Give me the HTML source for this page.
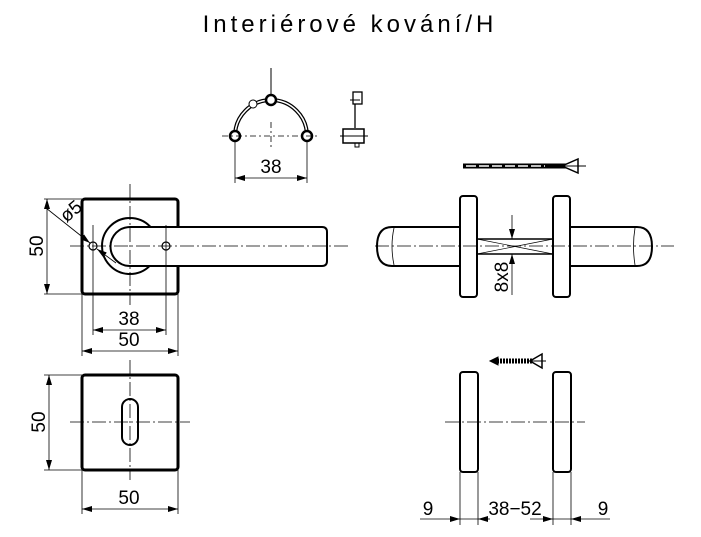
<!DOCTYPE html>
<html><head><meta charset="utf-8"><style>
html,body{margin:0;padding:0;background:#fff;}
svg{display:block;}
text{font-family:"Liberation Sans",sans-serif;fill:#000;}
</style></head><body>
<svg width="701" height="537" viewBox="0 0 701 537" xmlns="http://www.w3.org/2000/svg">
<defs>
<marker id="a" viewBox="0 0 10 6" refX="10" refY="3" markerWidth="10" markerHeight="6" orient="auto-start-reverse" markerUnits="userSpaceOnUse"><path d="M0,0 L10,3 L0,6z" fill="#000"/></marker>
</defs>
<text x="350" y="32" font-size="24" text-anchor="middle" letter-spacing="4" font-weight="normal">Interiérové kování/H</text>

<g fill="none" stroke="#000">
<!-- top fitting -->
<line x1="271" y1="68" x2="271" y2="98" stroke-width="1"/>
<path d="M235,136 A36,36 0 0 1 307,136" stroke-width="4"/>
<path d="M235,136 A36,36 0 0 1 307,136" stroke="#fff" stroke-width="1.5"/>
<circle cx="235" cy="136" r="5" stroke-width="2.5" fill="#fff"/>
<circle cx="307" cy="136" r="5" stroke-width="2.5" fill="#fff"/>
<circle cx="271" cy="100" r="5" stroke-width="2.5" fill="#fff"/>
<circle cx="253" cy="104" r="4" stroke-width="1" fill="#fff"/>
<g stroke-dasharray="6,3,2,3" stroke-width="0.8">
<line x1="222" y1="136" x2="320" y2="136"/>
<line x1="271" y1="122" x2="271" y2="150"/>
</g>
<line x1="235" y1="141" x2="235" y2="183" stroke-width="0.8"/>
<line x1="307" y1="141" x2="307" y2="183" stroke-width="0.8"/>
<line x1="235" y1="178" x2="307" y2="178" stroke-width="0.8" marker-start="url(#a)" marker-end="url(#a)"/>
<!-- side piece -->
<rect x="353" y="92" width="9" height="12" stroke-width="1.3"/>
<line x1="355" y1="104" x2="355" y2="128" stroke-width="1.3"/>
<line x1="350" y1="100" x2="360" y2="100" stroke-width="1"/>
<rect x="343" y="129" width="21" height="14" stroke-width="1.5"/>
<line x1="340" y1="136" x2="368" y2="136" stroke-width="1"/>
<rect x="355" y="143" width="4" height="4" stroke-width="1"/>

<!-- top-left view -->
<rect x="82" y="199" width="96" height="95" rx="3" stroke-width="3"/>
<circle cx="130" cy="246" r="28" stroke-width="2"/>
<path d="M327,232 Q327,227 322,227 L130,227 A19.5,19.5 0 0 0 130,266 L322,266 Q327,266 327,261 Z" stroke-width="2" fill="#fff"/>
<circle cx="93" cy="246" r="4" stroke-width="1.2"/>
<circle cx="166" cy="246" r="4" stroke-width="1.2"/>
<g stroke-dasharray="14,3,2,3" stroke-width="0.8">
<line x1="70" y1="246" x2="348" y2="246"/>
<line x1="130" y1="184" x2="130" y2="305"/>
</g>
<line x1="93" y1="225" x2="93" y2="335" stroke-width="0.8"/>
<line x1="166" y1="225" x2="166" y2="335" stroke-width="0.8"/>
<line x1="82" y1="294" x2="82" y2="356" stroke-width="0.8"/>
<line x1="178" y1="294" x2="178" y2="356" stroke-width="0.8"/>
<line x1="44" y1="199" x2="82" y2="199" stroke-width="0.8"/>
<line x1="44" y1="294" x2="82" y2="294" stroke-width="0.8"/>
<line x1="47" y1="199" x2="47" y2="294" stroke-width="0.8" marker-start="url(#a)" marker-end="url(#a)"/>
<line x1="93" y1="330" x2="166" y2="330" stroke-width="0.8" marker-start="url(#a)" marker-end="url(#a)"/>
<line x1="82" y1="351" x2="178" y2="351" stroke-width="0.8" marker-start="url(#a)" marker-end="url(#a)"/>
<line x1="46" y1="208" x2="90" y2="243" stroke-width="0.8" marker-end="url(#a)"/>
<line x1="116" y1="263" x2="97" y2="249" stroke-width="0.8" marker-end="url(#a)"/>

<!-- bottom-left view -->
<rect x="82" y="375" width="96" height="95" rx="3" stroke-width="3"/>
<rect x="122" y="399" width="16" height="46" rx="8" stroke-width="2"/>
<g stroke-dasharray="14,3,2,3" stroke-width="0.8">
<line x1="70" y1="422" x2="190" y2="422"/>
<line x1="130" y1="360" x2="130" y2="480"/>
</g>
<line x1="44" y1="375" x2="82" y2="375" stroke-width="0.8"/>
<line x1="44" y1="470" x2="82" y2="470" stroke-width="0.8"/>
<line x1="49" y1="375" x2="49" y2="470" stroke-width="0.8" marker-start="url(#a)" marker-end="url(#a)"/>
<line x1="82" y1="470" x2="82" y2="514" stroke-width="0.8"/>
<line x1="178" y1="470" x2="178" y2="514" stroke-width="0.8"/>
<line x1="82" y1="509" x2="178" y2="509" stroke-width="0.8" marker-start="url(#a)" marker-end="url(#a)"/>

<!-- right view -->
<line x1="463" y1="166" x2="575" y2="166" stroke-width="5"/>
<line x1="466" y1="166" x2="545" y2="166" stroke="#fff" stroke-width="1.5" stroke-dasharray="10,3"/>
<path d="M578,159 L578,173 L562,166 Z" stroke-width="1.5" fill="#fff"/>
<line x1="560" y1="166" x2="586" y2="166" stroke-width="1"/>
<path d="M392,227 L460,227 L460,266 L392,266 Q377,266 377,246.5 Q377,227 392,227Z" stroke-width="2" fill="#fff"/>
<path d="M394,228 Q390,246 394,265" stroke-width="0.8"/>
<path d="M637,227 L570,227 L570,266 L637,266 Q652,266 652,246.5 Q652,227 637,227Z" stroke-width="2" fill="#fff"/>
<path d="M635,228 Q632,246 635,265" stroke-width="0.8"/>
<rect x="460" y="196" width="17" height="101" rx="3" stroke-width="2" fill="#fff"/>
<rect x="553" y="196" width="17" height="101" rx="3" stroke-width="2" fill="#fff"/>
<line x1="477" y1="239" x2="553" y2="239" stroke-width="1.5"/>
<line x1="477" y1="254" x2="553" y2="254" stroke-width="1.5"/>
<path d="M477,239 L553,254 M477,254 L553,239" stroke-width="0.7"/>
<line x1="375" y1="246" x2="674" y2="246" stroke-width="0.8" stroke-dasharray="14,3,2,3"/>
<line x1="512" y1="215" x2="512" y2="239" stroke-width="0.8" marker-end="url(#a)"/>
<line x1="512" y1="295" x2="512" y2="254" stroke-width="0.8" marker-end="url(#a)"/>

<!-- bottom right -->
<line x1="494" y1="361" x2="536" y2="361" stroke-width="5" stroke-dasharray="2,1"/>
<path d="M490,361 L498,357 L498,365 Z" fill="#000" stroke-width="1"/>
<path d="M542,354 L542,368 L530,361 Z" stroke-width="1.5" fill="#fff"/>
<line x1="528" y1="361" x2="546" y2="361" stroke-width="1"/>
<rect x="460" y="372" width="18" height="100" rx="3" stroke-width="2"/>
<rect x="553" y="372" width="18" height="100" rx="3" stroke-width="2"/>
<line x1="445" y1="422" x2="585" y2="422" stroke-width="0.8" stroke-dasharray="14,3,2,3"/>
<g stroke-width="0.8">
<line x1="460" y1="472" x2="460" y2="525"/><line x1="478" y1="472" x2="478" y2="525"/>
<line x1="553" y1="472" x2="553" y2="525"/><line x1="571" y1="472" x2="571" y2="525"/>
<line x1="420" y1="519" x2="460" y2="519" marker-end="url(#a)"/>
<line x1="478" y1="519" x2="460" y2="519"/>
<line x1="490" y1="519" x2="478" y2="519" marker-end="url(#a)"/>
<line x1="530" y1="519" x2="553" y2="519" marker-end="url(#a)"/>
<line x1="553" y1="519" x2="571" y2="519"/>
<line x1="610" y1="519" x2="571" y2="519" marker-end="url(#a)"/>
</g>
</g>

<g font-size="19" text-anchor="middle">
<text x="271" y="173">38</text>
<text x="129" y="325">38</text>
<text x="129" y="346">50</text>
<text x="129" y="504">50</text>
<text transform="translate(43,246) rotate(-90)">50</text>
<text transform="translate(45,422) rotate(-90)">50</text>
<text transform="translate(75,216) rotate(-40)">ø5</text>
<text transform="translate(508,277) rotate(-90)">8x8</text>
<text x="428" y="515">9</text>
<text x="515" y="515">38−52</text>
<text x="603" y="515">9</text>
</g>
</svg>
</body></html>
